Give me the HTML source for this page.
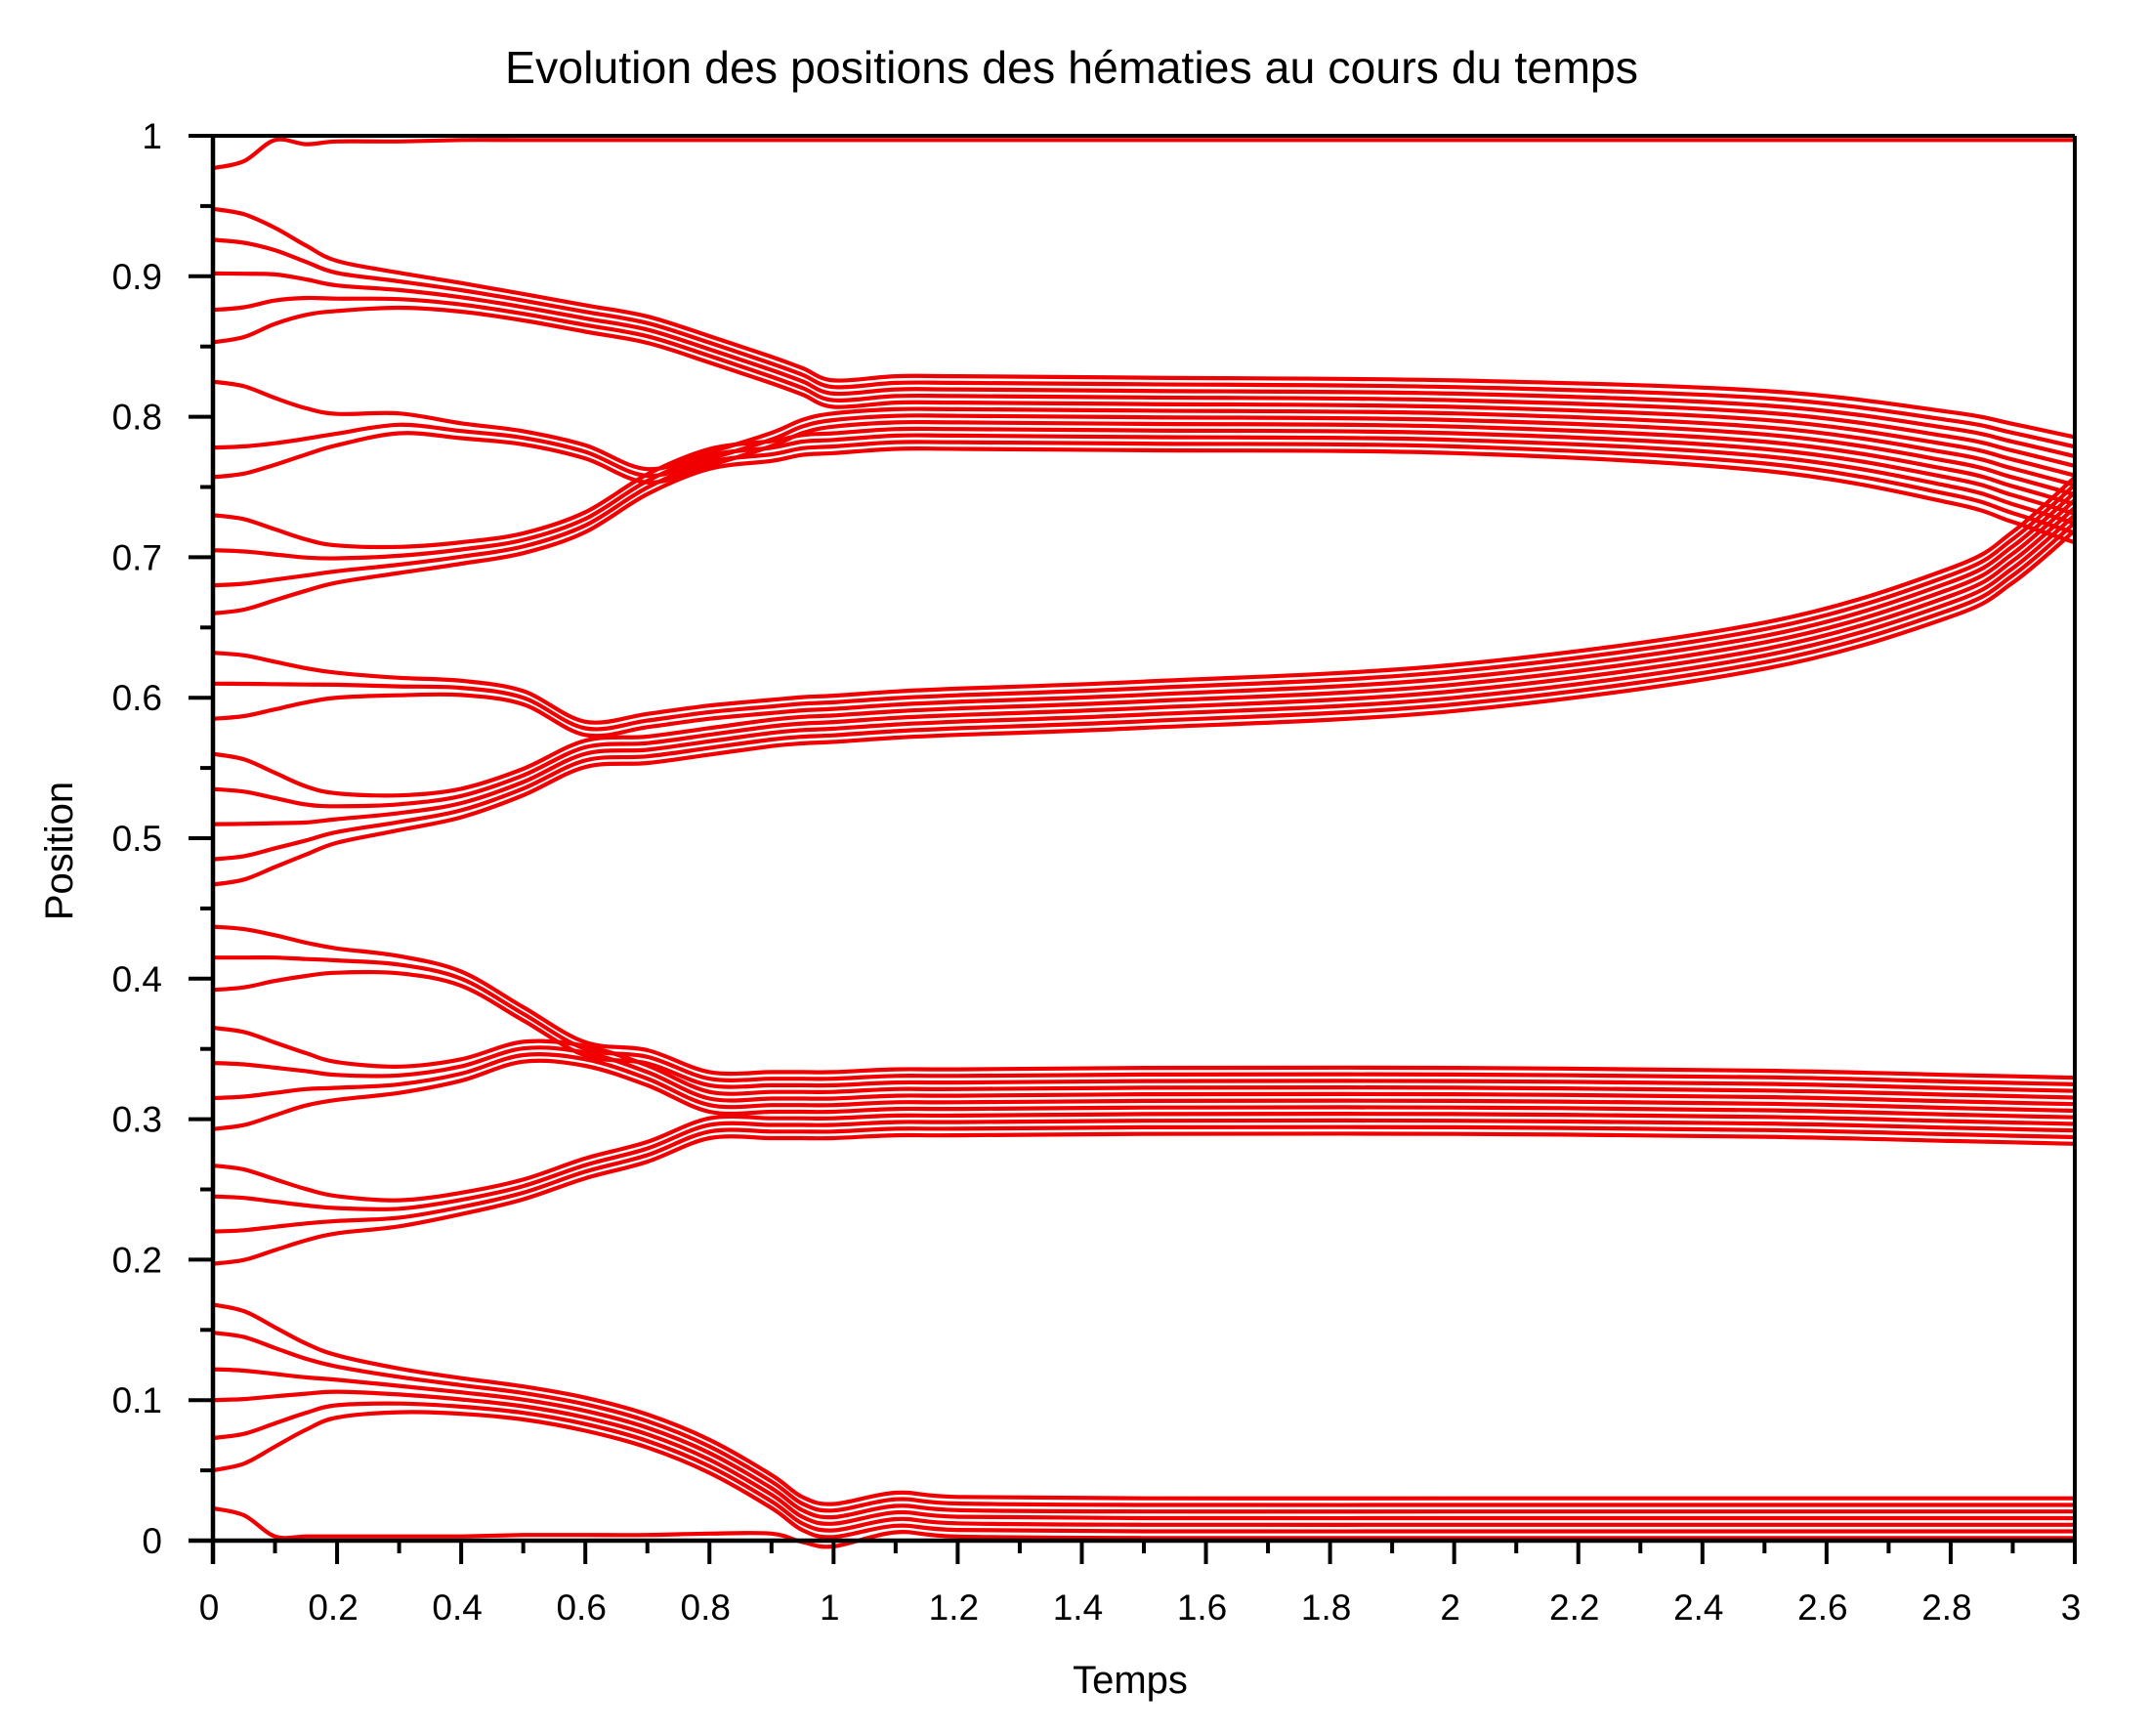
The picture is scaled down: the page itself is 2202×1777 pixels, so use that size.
<!DOCTYPE html>
<html><head><meta charset="utf-8"><style>
html,body{margin:0;padding:0;background:#fff;}
svg{display:block;font-family:"Liberation Sans",sans-serif;}
</style></head><body>
<svg id="chart" width="2202" height="1777" viewBox="0 0 2202 1777">
<rect x="0" y="0" width="2202" height="1777" fill="#fff"/>
<text x="1097" y="85" font-size="46" text-anchor="middle" textLength="1160" lengthAdjust="spacingAndGlyphs">Evolution des positions des hématies au cours du temps</text>
<text x="1157" y="1733" font-size="40" text-anchor="middle">Temps</text>
<text x="0" y="0" font-size="40" text-anchor="middle" transform="translate(74,871) rotate(-90)">Position</text>
<g id="series"></g>
<g id="axes"></g>
</svg>
<script>
// ---- data ----
const xTicks = [0,0.2,0.4,0.6,0.8,1,1.2,1.4,1.6,1.8,2,2.2,2.4,2.6,2.8,3];
const xTickLabels = ["0","0.2","0.4","0.6","0.8","1","1.2","1.4","1.6","1.8","2","2.2","2.4","2.6","2.8","3"];
const yTicks = [0,0.1,0.2,0.3,0.4,0.5,0.6,0.7,0.8,0.9,1];
const yTickLabels = ["0","0.1","0.2","0.3","0.4","0.5","0.6","0.7","0.8","0.9","1"];
const timeGrid = [0,0.05,0.1,0.15,0.2,0.3,0.4,0.5,0.6,0.7,0.8,0.9,0.95,1.0,1.1,1.2,1.5,2.0,2.5,2.8,2.9,3.0];
const initialDecay = [1,0.9,0.65,0.4,0.22,0.08,0.02,0,0,0,0,0,0,0,0,0,0,0,0,0,0,0];
const spreadUpper = [1,1,1,1,1,1,1,1,1,1,1,1,1,1,1,1,1,1,1.1,1.25,1.35,1.45];
const spreadFlat = [1,1,1,1,1,1,1,1,1,1,1,1,1,1,1,1,1,1,1,1,1,1];
const spreadLowerMid = [1,1,1,1,1,1,1,1,1,1,1,1,1,1,1,1,1,1,1,1.05,1.1,1.15];
const mergeUpper = [0,0,0,0,0,0,0,0,0,0,0,0.5,0.8,1,1,1,1,1,1,1,1,1];
const mergeLowerMid = [0,0,0,0,0,0,0,0,0.7,1,1,1,1,1,1,1,1,1,1,1,1,1];
const mergeMiddle = [0,0,0,0,0,0,0,0,0,0.5,1,1,1,1,1,1,1,1,1,1,1,1];
const mergeBottom = [0,0,0,0,0,0,0,0,0,0,0,0,0.5,1,1,1,1,1,1,1,1,1];
const mergeTop = [0,0,0,0,0,0,0,0,0,0,0,0,0,0,0,0,0,0,0,0,0,0];
const pathTop = [0.977,0.982,0.997,0.994,0.996,0.996,0.997,0.997,0.997,0.997,0.997,0.997,0.997,0.997,0.997,0.997,0.997,0.997,0.997,0.997,0.997,0.997];
const pathA = [0.90,0.90,0.90,0.897,0.893,0.89,0.885,0.878,0.87,0.862,0.848,0.825,0.812,0.80,0.803,0.803,0.802,0.80,0.79,0.771,0.76,0.748];
const pathB = [0.787,0.787,0.787,0.788,0.79,0.795,0.79,0.785,0.775,0.758,0.77,0.785,0.795,0.80,0.803,0.803,0.802,0.80,0.79,0.771,0.76,0.748];
const pathC = [0.694,0.694,0.694,0.694,0.695,0.698,0.703,0.71,0.725,0.752,0.77,0.785,0.795,0.80,0.803,0.803,0.802,0.80,0.79,0.771,0.76,0.748];
const pathD = [0.609,0.609,0.609,0.609,0.609,0.608,0.607,0.60,0.57,0.572,0.578,0.582,0.584,0.585,0.588,0.59,0.595,0.607,0.637,0.675,0.70,0.738];
const pathE = [0.512,0.512,0.512,0.512,0.514,0.518,0.525,0.54,0.565,0.57,0.576,0.582,0.584,0.585,0.588,0.59,0.595,0.607,0.637,0.675,0.70,0.738];
const pathF = [0.415,0.415,0.415,0.414,0.413,0.41,0.40,0.375,0.35,0.335,0.31,0.31,0.31,0.31,0.312,0.312,0.313,0.313,0.311,0.308,0.307,0.306];
const pathG = [0.328,0.328,0.328,0.328,0.327,0.328,0.335,0.348,0.345,0.33,0.31,0.31,0.31,0.31,0.312,0.312,0.313,0.313,0.311,0.308,0.307,0.306];
const pathH = [0.232,0.232,0.232,0.232,0.232,0.233,0.24,0.25,0.265,0.285,0.31,0.31,0.31,0.31,0.312,0.312,0.313,0.313,0.311,0.308,0.307,0.306];
const pathI = [0.11,0.11,0.11,0.11,0.11,0.107,0.103,0.098,0.09,0.078,0.06,0.035,0.018,0.012,0.02,0.017,0.016,0.016,0.016,0.016,0.016,0.016];
const pathJ = [0.023,0.018,0.003,0.003,0.003,0.003,0.003,0.004,0.004,0.004,0.005,0.005,0.006,0.010,0.02,0.017,0.016,0.016,0.016,0.016,0.016,0.016];
const startTop = [0.977];
const startA = [0.948,0.926,0.902,0.876,0.853];
const startB = [0.825,0.778,0.757];
const startC = [0.73,0.705,0.68,0.66];
const startD = [0.632,0.61,0.585];
const startE = [0.56,0.535,0.51,0.485,0.467];
const startF = [0.437,0.415,0.392];
const startG = [0.365,0.34,0.315,0.293];
const startH = [0.267,0.245,0.22,0.197];
const startI = [0.168,0.148,0.122,0.10,0.073,0.05];
const startJ = [0.023];
const slotTop = [0];
const slotA = [5.5,4.5,3.5,2.5,1.5];
const slotB = [0.5,-0.5,-1.5];
const slotC = [-2.5,-3.5,-4.5,-5.5];
const slotD = [3.5,2.5,1.5];
const slotE = [0.5,-0.5,-1.5,-2.5,-3.5];
const slotF = [5,4,3];
const slotG = [2,1,0,-1];
const slotH = [-2,-3,-4,-5];
const slotI = [3,2,1,0,-1,-2];
const slotJ = [-3];
const lineSpacing = 0.0047;

// ---- layout ----
const X0=218, X1=2124, Y0=1577, Y1=139;
const xS = t => X0 + (t-0)/(3-0)*(X1-X0);
const yS = v => Y0 - v*(Y0-Y1);
const NS='http://www.w3.org/2000/svg';
const series=document.getElementById('series');
const axes=document.getElementById('axes');

const groups = [
 {path:pathTop,starts:startTop,slots:slotTop,merge:mergeTop,spread:spreadFlat},
 {path:pathA,starts:startA,slots:slotA,merge:mergeUpper,spread:spreadUpper},
 {path:pathB,starts:startB,slots:slotB,merge:mergeUpper,spread:spreadUpper},
 {path:pathC,starts:startC,slots:slotC,merge:mergeUpper,spread:spreadUpper},
 {path:pathD,starts:startD,slots:slotD,merge:mergeLowerMid,spread:spreadLowerMid},
 {path:pathE,starts:startE,slots:slotE,merge:mergeLowerMid,spread:spreadLowerMid},
 {path:pathF,starts:startF,slots:slotF,merge:mergeMiddle,spread:spreadFlat},
 {path:pathG,starts:startG,slots:slotG,merge:mergeMiddle,spread:spreadFlat},
 {path:pathH,starts:startH,slots:slotH,merge:mergeMiddle,spread:spreadFlat},
 {path:pathI,starts:startI,slots:slotI,merge:mergeBottom,spread:spreadFlat},
 {path:pathJ,starts:startJ,slots:slotJ,merge:mergeBottom,spread:spreadFlat}
];

function catmull(pts){
  let d='M'+pts[0][0].toFixed(1)+','+pts[0][1].toFixed(1);
  for(let i=0;i<pts.length-1;i++){
    const p0=pts[Math.max(0,i-1)],p1=pts[i],p2=pts[i+1],p3=pts[Math.min(pts.length-1,i+2)];
    const c1=[p1[0]+(p2[0]-p0[0])/6,p1[1]+(p2[1]-p0[1])/6];
    const c2=[p2[0]-(p3[0]-p1[0])/6,p2[1]-(p3[1]-p1[1])/6];
    d+='C'+c1[0].toFixed(1)+','+c1[1].toFixed(1)+' '+c2[0].toFixed(1)+','+c2[1].toFixed(1)+' '+p2[0].toFixed(1)+','+p2[1].toFixed(1);
  }
  return d;
}

groups.forEach(g=>{
  const c0=g.path[0];
  const gm=g.slots.reduce((a,b)=>a+b,0)/g.slots.length;
  g.starts.forEach((y0,k)=>{
    const slot=g.slots[k];
    const pts=timeGrid.map((t,i)=>{
      const D=initialDecay[i], M=g.merge[i], sp=lineSpacing*g.spread[i];
      const v=g.path[i]+(y0-c0)*D+sp*((slot-gm)*(1-D)+gm*M);
      return [xS(t),yS(v)];
    });
    const p=document.createElementNS(NS,'path');
    p.setAttribute('d',catmull(pts));
    p.setAttribute('fill','none');
    p.setAttribute('stroke','#f00000');
    p.setAttribute('stroke-width','4.2');
    
    
    series.appendChild(p);
  });
});

function line(x1,y1,x2,y2,w){
  const l=document.createElementNS(NS,'line');
  l.setAttribute('x1',x1);l.setAttribute('y1',y1);l.setAttribute('x2',x2);l.setAttribute('y2',y2);
  l.setAttribute('stroke','#000');l.setAttribute('stroke-width',w);
  axes.appendChild(l);
  return l;
}
let fr=line(X0,Y1,X1,Y1,4);


fr=line(X1,Y1,X1,Y0+24,4);


fr=line(X0,Y1,X0,Y0+24,4.5);


fr=line(X0-25,Y0,X1,Y0,4.5);



yTicks.forEach((v,i)=>{
  const tk=line(X0-25,yS(v),X0,yS(v),4);
  
  
  if(i<yTicks.length-1){
    const mv=v+0.05;
    const mt=line(X0-13,yS(mv),X0,yS(mv),4);
    
    
  }
  const tx=document.createElementNS(NS,'text');
  tx.setAttribute('x',166);tx.setAttribute('y',yS(v)+13);
  tx.setAttribute('font-size','37');tx.setAttribute('text-anchor','end');
  tx.textContent=yTickLabels[i];
  
  
  axes.appendChild(tx);
});
xTicks.forEach((t,i)=>{
  const tk=line(xS(t),Y0,xS(t),Y0+24,4);
  
  
  if(i<xTicks.length-1){
    const mt=line(xS(t+0.1),Y0,xS(t+0.1),Y0+13,4);
    
    
  }
  const tx=document.createElementNS(NS,'text');
  tx.setAttribute('x',xS(t)-4);tx.setAttribute('y',1658);
  tx.setAttribute('font-size','37');tx.setAttribute('text-anchor','middle');
  tx.textContent=xTickLabels[i];
  
  
  axes.appendChild(tx);
});
</script>
</body></html>
